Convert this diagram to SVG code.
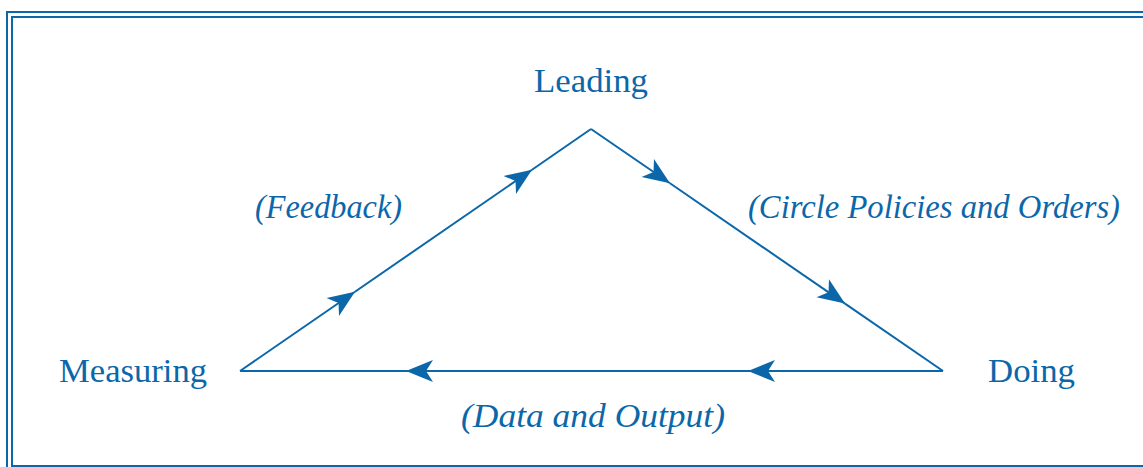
<svg xmlns="http://www.w3.org/2000/svg" width="1143" height="467" viewBox="0 0 1143 467">
<style>
.frame{fill:none;stroke:#0b67a9;stroke-width:2}
.edge{fill:none;stroke:#0b67a9;stroke-width:2}
.lbl{font-family:"Liberation Serif","Times New Roman",serif;font-size:34px;fill:#0b67a9}
.it{font-family:"Liberation Serif","Times New Roman",serif;font-style:italic;font-size:33px;fill:#0b67a9}
</style>
<defs>
<marker id="arr" markerUnits="userSpaceOnUse" markerWidth="30" markerHeight="26" viewBox="-28 -13 30 26" refX="0" refY="0" orient="auto">
<path d="M0,0 L-27,-11 L-20,0 L-27,11 Z" fill="#0b67a9"/>
</marker>
</defs>
<rect width="1143" height="467" fill="#ffffff"/>
<rect class="frame" x="7" y="12" width="1150" height="470"/>
<rect class="frame" x="12" y="17" width="1140" height="449"/>
<g id="connectors">
<path class="edge" d="M240,371 L355,291.7" marker-end="url(#arr)"/>
<path class="edge" d="M355,291.7 L532,169.7" marker-end="url(#arr)"/>
<path class="edge" d="M532,169.7 L591,129"/>
<path class="edge" d="M591,129 L670,183.3" marker-end="url(#arr)"/>
<path class="edge" d="M670,183.3 L845,303.6" marker-end="url(#arr)"/>
<path class="edge" d="M845,303.6 L943,371"/>
<path class="edge" d="M943,371 L748,371" marker-end="url(#arr)"/>
<path class="edge" d="M748,371 L406,371" marker-end="url(#arr)"/>
<path class="edge" d="M406,371 L240,371"/>
</g>
<g id="leading"><text class="lbl" x="534" y="92" textLength="114" lengthAdjust="spacingAndGlyphs">Leading</text></g>
<g id="measuring"><text class="lbl" x="59" y="382" textLength="148" lengthAdjust="spacingAndGlyphs">Measuring</text></g>
<g id="doing"><text class="lbl" x="988" y="382" textLength="87" lengthAdjust="spacingAndGlyphs">Doing</text></g>
<g id="label-feedback"><text class="it" x="255" y="218" textLength="147" lengthAdjust="spacingAndGlyphs">(Feedback)</text></g>
<g id="label-policies"><text class="it" x="748" y="218" textLength="372" lengthAdjust="spacingAndGlyphs">(Circle Policies and Orders)</text></g>
<g id="label-data"><text class="it" x="461" y="427" textLength="264" lengthAdjust="spacingAndGlyphs">(Data and Output)</text></g>
</svg>
